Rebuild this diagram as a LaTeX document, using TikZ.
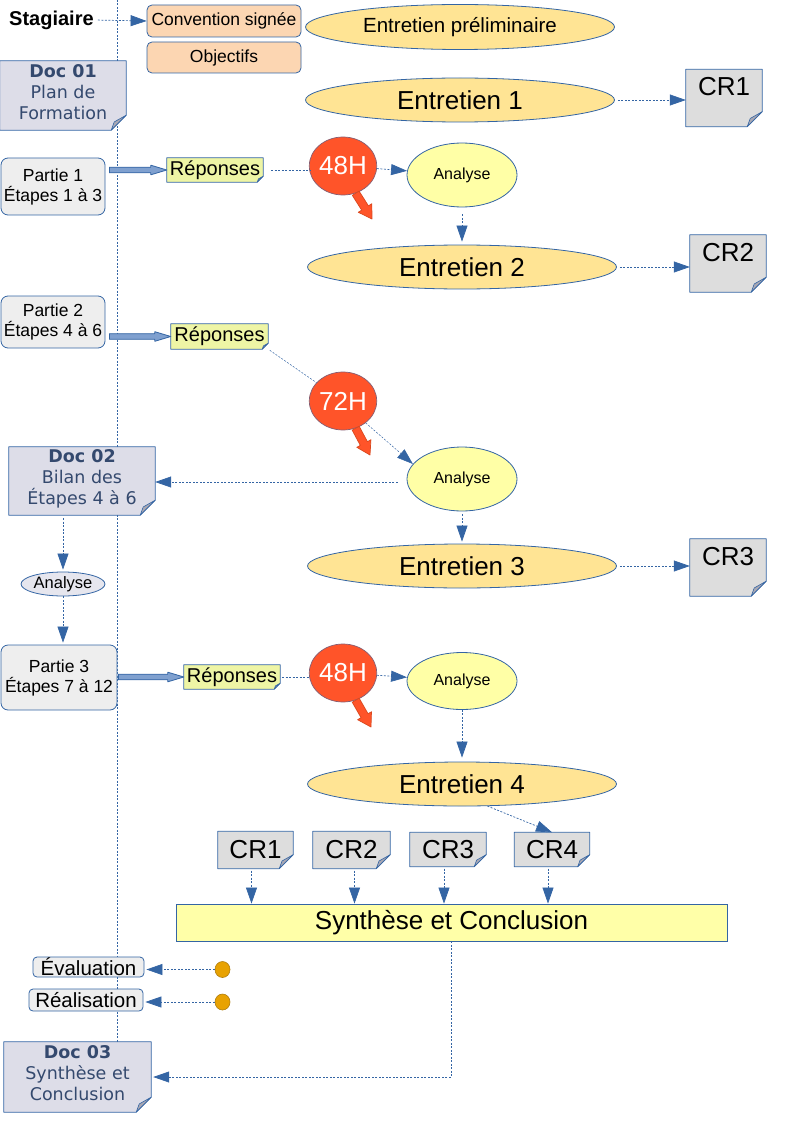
\documentclass[tikz,border=0pt]{standalone}
\usepackage{fontspec}
\setmainfont{Liberation Sans}
\newfontfamily\docfont{DejaVu Sans}
\usetikzlibrary{shapes.geometric,arrows.meta,calc}
\pgfdeclarelayer{back}\pgfdeclarelayer{bg}
\pgfsetlayers{back,bg,main}
\definecolor{bl}{HTML}{3465A4}
\definecolor{peach}{HTML}{FCD6B2}
\definecolor{entf}{HTML}{FFE494}
\definecolor{anaf}{HTML}{FFFFA6}
\definecolor{docf}{HTML}{DDDDE8}
\definecolor{doct}{HTML}{34496E}
\definecolor{crf}{HTML}{DDDDDD}
\definecolor{partf}{HTML}{EEEEEE}
\definecolor{repf}{HTML}{EEF5A5}
\definecolor{synf}{HTML}{FFFFA8}
\definecolor{redf}{HTML}{FF5429}
\definecolor{redd}{HTML}{D9481E}
\definecolor{dotf}{HTML}{E8A202}
\definecolor{dotd}{HTML}{B07E10}
\definecolor{fatf}{HTML}{7FA0CF}
\definecolor{foldg}{HTML}{A8A8B4}
\definecolor{smallf}{HTML}{E6E6EE}

\newcommand\foldbox[3]{%
 \begin{pgfonlayer}{bg}
 \filldraw[fill=#3, draw=bl, line width=0.8pt, line join=round] (#1.north west) -- (#1.north east) -- ([yshift=#2pt]#1.south east) -- ([xshift=-#2pt]#1.south east) -- (#1.south west) -- cycle;
 \filldraw[fill=foldg, draw=bl, line width=0.6pt, line join=round] ([yshift=#2pt]#1.south east) -- ([xshift=-#2pt]#1.south east) -- ([xshift=-0.8*#2pt, yshift=0.55*#2pt]#1.south east) -- cycle;
 \end{pgfonlayer}}

\newcommand\fatarrow[6]{%
 \path[#6] let \p1=(#1), \p2=(#2), \n1={atan2(\y2-\y1,\x2-\x1)}, \n2={veclen(\x2-\x1,\y2-\y1)-#5pt} in
 ($(\p1)+(\n1+90:#3pt)$) -- ($(\p1)+(\n1:\n2)+(\n1+90:#3pt)$) -- ($(\p1)+(\n1:\n2)+(\n1+90:#4pt)$) -- (\p2) -- ($(\p1)+(\n1:\n2)+(\n1-90:#4pt)$) -- ($(\p1)+(\n1:\n2)+(\n1-90:#3pt)$) -- ($(\p1)+(\n1-90:#3pt)$) -- cycle;}

\tikzset{
 dl/.style={draw=bl, line width=0.7pt, dash pattern=on 2pt off 1.5pt},
 arr/.style={dl, -{Triangle[length=16pt,width=11pt]}},
 rbox/.style={draw=bl, line width=0.8pt, rounded corners=5pt, inner sep=0pt, font=\fontsize{17.5}{20}\selectfont, align=center},
 ent/.style={ellipse, draw=bl, line width=0.8pt, fill=entf, inner sep=0pt, minimum width=309pt, minimum height=44pt, font=\fontsize{26}{30}\selectfont},
 ana/.style={ellipse, draw=bl, line width=0.8pt, fill=anaf, inner sep=0pt, minimum width=110pt, font=\fontsize{16}{19}\selectfont},
 circ/.style={ellipse, draw=bl!60!redf, line width=0.7pt, fill=redf, inner sep=0pt, minimum width=62pt, minimum height=58pt, text=white, font=\fontsize{26}{30}\selectfont},
 docbox/.style={inner sep=0pt},
 docn/.style={inner sep=0pt, align=center, text=doct, font=\docfont\fontsize{17.5}{21}\selectfont},
 crbig/.style={inner sep=0pt, minimum width=76pt, minimum height=57pt, text height=19pt, text depth=23pt, font=\fontsize{26}{30}\selectfont},
 crsm/.style={inner sep=0pt, minimum height=37pt, font=\fontsize{26}{30}\selectfont},
 part/.style={rbox, fill=partf, rounded corners=7pt},
 rep/.style={inner sep=0pt, minimum width=96pt, minimum height=24pt, font=\fontsize{20}{24}\selectfont},
 lab/.style={rbox, fill=partf, rounded corners=4pt, font=\fontsize{20.5}{24}\selectfont},
 orange/.style={fill=redf, draw=redd, line width=0.7pt, line join=round},
 fat/.style={fill=fatf, draw=bl, line width=0.8pt, line join=round},
}

\begin{document}
\begin{tikzpicture}[x=1pt, y=-1pt]
\useasboundingbox (0,0) rectangle (794,1123);

% left vertical line
\coordinate (vt) at (117,0);
\coordinate (vb) at (117,1045);
\begin{pgfonlayer}{back}
\draw[dl] (vt) -- (vb);
\end{pgfonlayer}

% top
\node[anchor=west, font=\bfseries\fontsize{20}{24}\selectfont, inner sep=0pt] (stag) at (9,20) {Stagiaire};
\node[rbox, fill=peach, minimum width=154pt, minimum height=32pt] (conv) at (224,21) {Convention signée};
\node[rbox, fill=peach, minimum width=154pt, minimum height=31pt] (obj) at (224,57.5) {Objectifs};
\node[ent, minimum height=45pt, font=\fontsize{20.5}{24}\selectfont] (ep) at (460,27) {Entretien préliminaire};
\draw[arr, shorten <=4pt] (stag.east) -- (conv.west);

\node[docbox, minimum width=126pt, minimum height=69pt] (d1) at (63,95.5) {};
\foldbox{d1}{15}{docf}
\node[docn] (d1t) at ([yshift=3pt]d1.center) {\textbf{Doc 01}\\Plan de\\Formation};

\node[ent] (e1) at (460,100) {Entretien 1};
\node[crbig] (cr1) at (724,98) {CR1};
\foldbox{cr1}{15}{crf}
\draw[arr, shorten <=3pt] (e1.east) -- (e1.east -| cr1.west);

% Partie 1
\node[part, minimum width=104pt, minimum height=57pt] (p1) at (53,186.5) {Partie 1\\Étapes 1 à 3};
\node[rep] (r1) at (215,170) {Réponses};
\foldbox{r1}{6}{repf}
\fatarrow{$(p1.east |- r1.west)+(4,0)$}{r1.west}{2.8}{4.8}{16}{fat}
\node[circ] (h1) at (343,166) {48H};
\node[ana, minimum height=64pt] (a1) at (462,175) {Analyse};
\draw[dl, shorten <=8pt] (r1.east) -- ($(r1.east -| h1.west)+(1,0)$);
\draw[arr] (h1) -- (a1);
\coordinate (t1) at (372,219);
\fatarrow{h1.-65}{t1}{4}{8}{13}{orange}
\node[ent] (e2) at (462,267) {Entretien 2};
\draw[arr, shorten <=7pt, shorten >=3pt] (a1.south) -- (e2.north);
\node[crbig] (cr2) at (728,263.5) {CR2};
\foldbox{cr2}{15}{crf}
\draw[arr, shorten <=3pt] (e2.east) -- (e2.east -| cr2.west);

% Partie 2
\node[part, minimum width=104pt, minimum height=52pt] (p2) at (53,322) {Partie 2\\Étapes 4 à 6};
\node[rep, minimum width=97pt, minimum height=25pt] (r2) at (219.5,336.5) {Réponses};
\foldbox{r2}{6}{repf}
\fatarrow{$(p2.east |- r2.west)+(4,0)$}{r2.west}{2.8}{4.8}{16}{fat}
\node[circ] (h2) at (343,401) {72H};
\draw[dl, line width=0.5pt, shorten <=2pt] (r2.south east) -- (h2);
\coordinate (t2) at (370,455);
\fatarrow{h2.-65}{t2}{4}{8}{13}{orange}
\node[ana, minimum height=64pt] (a2) at (462,479) {Analyse};
\draw[arr, line width=0.5pt] (h2.-44) -- (a2.163);
\node[docbox, minimum width=146pt, minimum height=68pt] (d2) at (82,481) {};
\foldbox{d2}{15}{docf}
\node[docn] (d2t) at ([yshift=2pt]d2.center) {\textbf{Doc 02}\\Bilan des\\Étapes 4 à 6};
\draw[arr, shorten <=9pt] ($(a2.west)+(0,3)$) -- ($(a2.west -| d2.east)+(0,3)$);
\node[ent] (e3) at (462,566) {Entretien 3};
\draw[arr, shorten <=3pt, shorten >=2pt] (a2.south) -- (e3.north);
\node[crbig] (cr3) at (728,567.5) {CR3};
\foldbox{cr3}{15}{crf}
\draw[arr, shorten <=3pt] (e3.east) -- (e3.east -| cr3.west);

% small analyse
\node[ellipse, draw=bl, line width=0.8pt, fill=smallf, inner sep=0pt, minimum width=84pt, minimum height=24pt, font=\fontsize{16.5}{20}\selectfont] (sa) at (63,584) {Analyse};
\draw[arr, shorten <=3pt, shorten >=2pt] (d2.south -| sa.north) -- (sa.north);

% Partie 3
\node[part, minimum width=116pt, minimum height=65pt] (p3) at (59,677.5) {Partie 3\\Étapes 7 à 12};
\draw[arr, shorten >=2pt] (sa.south) -- (sa.south |- p3.north);
\node[rep] (r3) at (232,677) {Réponses};
\foldbox{r3}{6}{repf}
\fatarrow{$(p3.east |- r3.west)+(1,0)$}{r3.west}{2.8}{4.8}{16}{fat}
\node[circ] (h3) at (343,673) {48H};
\node[ana, minimum height=57pt] (a3) at (462,681) {Analyse};
\draw[dl, shorten <=2pt] (r3.east) -- ($(r3.east -| h3.west)+(1,0)$);
\draw[arr] (h3) -- (a3);
\coordinate (t3) at (371,727);
\fatarrow{h3.-65}{t3}{4}{8}{13}{orange}
\node[ent] (e4) at (462,784) {Entretien 4};
\draw[arr, shorten >=4pt] (a3.south) -- (e4.north);

% bottom CR row
\node[crsm, minimum width=75pt] (b1) at (255.5,850) {CR1};
\node[crsm, minimum width=77pt] (b2) at (351.5,850) {CR2};
\node[crsm, minimum width=76pt, minimum height=34pt] (b3) at (448,849.5) {CR3};
\node[crsm, minimum width=75pt, minimum height=34pt] (b4) at (552,849.5) {CR4};
\foldbox{b1}{14}{crf}
\foldbox{b2}{14}{crf}
\foldbox{b3}{12}{crf}
\foldbox{b4}{12}{crf}
\draw[arr] (e4.-41) -- (b4.north);

\node[draw=bl, line width=0.8pt, fill=synf, minimum width=551pt, minimum height=37pt, inner sep=0pt, font=\fontsize{26}{30}\selectfont] (syn) at (451.5,922.5) {Synthèse et Conclusion};
\draw[arr, shorten <=2pt] ($(b1.south)+(-4,0)$) -- ($(b1.south |- syn.north)+(-4,0)$);
\draw[arr, shorten <=2pt] ($(b2.south)+(3,0)$) -- ($(b2.south |- syn.north)+(3,0)$);
\draw[arr, shorten <=2pt] ($(b3.south)+(-4,0)$) -- ($(b3.south |- syn.north)+(-4,0)$);
\draw[arr, shorten <=2pt] ($(b4.south)+(-4,0)$) -- ($(b4.south |- syn.north)+(-4,0)$);

% evaluation / realisation
\node[lab, minimum width=111pt, minimum height=20pt] (ev) at (88.5,967) {Évaluation};
\node[lab, minimum width=114pt, minimum height=22pt] (re) at (86,1000) {Réalisation};
\node[ellipse, fill=dotf, draw=dotd, line width=0.6pt, minimum width=15pt, minimum height=16pt, inner sep=0pt] (o1) at (222.5,969.5) {};
\node[ellipse, fill=dotf, draw=dotd, line width=0.6pt, minimum width=15pt, minimum height=16pt, inner sep=0pt] (o2) at (222.5,1002) {};
\draw[arr, shorten >=2pt] (o1.west) -- (o1.west -| ev.east);
\draw[arr, shorten >=2pt] (o2.west) -- (o2.west -| re.east);

% Doc 03
\node[docbox, minimum width=147pt, minimum height=70pt] (d3) at (77.5,1077) {};
\foldbox{d3}{15}{docf}
\node[docn] (d3t) at ([yshift=3.5pt]d3.center) {\textbf{Doc 03}\\Synthèse et\\Conclusion};
\draw[arr, shorten >=2pt] (syn.south) |- (d3.east);
\end{tikzpicture}
\end{document}
